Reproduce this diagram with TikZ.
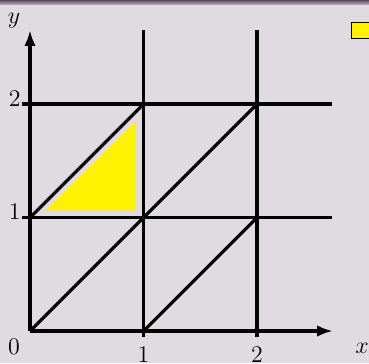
\documentclass[tikz,border=0pt]{standalone}
\usetikzlibrary{arrows.meta}
\definecolor{bgc}{HTML}{E0DBE0}
\definecolor{bartop}{HTML}{5E4A60}
\definecolor{barbot}{HTML}{B0A0B0}
\tikzset{
  gridline/.style={line width=1.6pt, black},
  axisline/.style={line width=1.6pt, black, -{Latex[length=0.28cm,width=0.2cm]}},
  lbl/.style={inner sep=0pt, font=\fontsize{12}{14}\selectfont},
}
\begin{document}
\begin{tikzpicture}[x=2cm,y=2cm]
\useasboundingbox (-0.2643,-0.2819) rectangle (2.9868,2.9163);
\fill[bgc] (-0.2643,-0.2819) rectangle (2.9868,2.9163);
\shade[top color=bartop, bottom color=barbot] (-0.2643,2.881) rectangle (2.9868,2.9163);
\clip (-0.2643,-0.2819) rectangle (2.9868,2.9163);
% grid points
\coordinate (O) at (0,0);
\coordinate (A10) at (1,0);
\coordinate (A20) at (2,0);
\coordinate (A01) at (0,1);
\coordinate (A11) at (1,1);
\coordinate (A21) at (2,1);
\coordinate (A02) at (0,2);
\coordinate (A12) at (1,2);
\coordinate (A22) at (2,2);
\coordinate (Xend) at (2.67,0);
\coordinate (Yend) at (0,2.652);
\coordinate (V1b) at (1,-0.055);
\coordinate (V1t) at (1,2.652);
\coordinate (V2b) at (2,-0.055);
\coordinate (V2t) at (2,2.652);
\coordinate (H1l) at (-0.07,1);
\coordinate (H1r) at (2.66,1);
\coordinate (H2l) at (-0.07,2);
\coordinate (H2r) at (2.66,2);
% yellow triangle
\fill[yellow] (0.141,1.06) -- (0.934,1.06) -- (0.934,1.844) -- cycle;
% grid
\draw[gridline] (V1b) -- (V1t);
\draw[gridline] (V2b) -- (V2t);
\draw[gridline] (H1l) -- (H1r);
\draw[gridline] (H2l) -- (H2r);
\draw[gridline] (O) -- (A11);
\draw[gridline] (A10) -- (A21);
\draw[gridline] (A01) -- (A12);
\draw[gridline] (A11) -- (A22);
% axes
\draw[axisline] (O) -- (Xend);
\draw[axisline] (O) -- (Yend);
% labels
\node[lbl] (ly) at (-0.141,2.735) {$y$};
\node[lbl] (lx) at (2.925,-0.150) {$x$};
\node[lbl] (l0) at (-0.141,-0.141) {$0$};
\node[lbl, anchor=north] (lx1) at (1,-0.141) {$1$};
\node[lbl, anchor=north] (lx2) at (2,-0.141) {$2$};
\node[lbl, anchor=base east] (ly1) at (-0.08,0.985) {$1$};
\node[lbl, anchor=base east] (ly2) at (-0.08,1.98) {$2$};
% legend box
\node[draw=black, line width=0.6pt, fill=yellow, inner sep=0pt, minimum width=0.5cm, minimum height=0.28cm, anchor=north west] (leg) at (2.828,2.722) {};
\end{tikzpicture}
\end{document}
